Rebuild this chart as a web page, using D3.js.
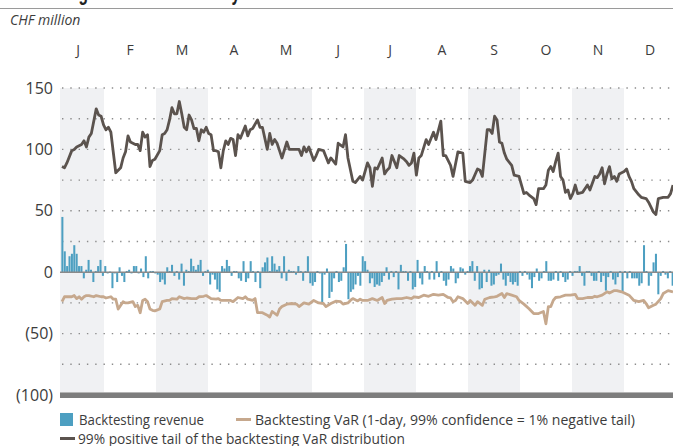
<!DOCTYPE html>
<html>
<head>
<meta charset="utf-8">
<script src="https://cdnjs.cloudflare.com/ajax/libs/d3/7.8.5/d3.min.js"></script>
<style>
  body { margin: 0; background: #fff; overflow: hidden; }
  svg { display: block; }
  svg text { font-family: "Liberation Sans Narrow", "Open Sans", sans-serif; fill: #3c3c3c; }
</style>
</head>
<body>
<div id="chart"></div>
<script>
/*
  Backtesting revenue vs backtesting VaR
*/

var months = ["J", "F", "M", "A", "M", "J", "J", "A", "S", "O", "N", "D"],
    yTicks = [150, 100, 50, 0, -50, -100],
    gridValues = [150, 125, 100, 75, 50, 25, -25, -50, -75];

// daily backtesting revenue, CHF million
var revenue = [
  45, 17, 5, 13, 15, 22, 15, 5, 5, -5, 2, 10, 2, -8, 1, 5, 10, -3, 5, -1,
  0.5, -13, -1, -8, 4, -3, -8, 1, 2, -1, 5, 5, -1, 3, -4, 13, -5, 1, 1, -1,
  -2, -8, -6, -10, 4, 1, 6, -3, 1, -6, 7, -11, 2, 1, 11, 5, 2, 6, 10, -3,
  1, 2, -10,
  -2, -6, -14, -16, 5, 3, 10, 5, -3, 1, 1, -5, -7, 9, -8, -5, 9, 1, -8, 1,
  -13, 4, 8, 12, 1, 13, 7, 2, 5, -5, 13, -7, 2, 1, 1, -2, 5, 1, -7, 1,
  13, -9, -11, -8, 1, -1, -25, -2, 3, -21, -16, -5, 1, -8, -7, 4, 23, -22, -16, -14,
  -10, -3,
  -11, 13, 9, 2, -9, -5, -12, -10, -11, -8, -3, 4, -6, 1, -4, 1, -14, 6, 1, 1,
  -7, 1, -14, -12, 10, -5, -10, 5, 1, -6, 1, -6, 9, -4, 1, -7, -11, -6, 5, 3,
  -9, -5, 4, 3, -2, 1, 5, 9, -7, 5, -14, -13, 2, -8, 2, -11, -10, -3, -2, 7,
  -6, -11, -3, -8, -10,
  -8, -11, 1, -3, 1, -2, -6, -13, -4, 3, -7, -5, 1, 9, -7, -7, -6, 1, -7, 1,
  -4, -8, -6, 1, -3, 1, 1, 5, -3, -11, 1, 1, -3, -7, -7, 1, -8, -3, -15, -4,
  1, -6, -10, -4, 1, -16, 1, -5, 1, -5, -5, -5, -11, -9, 22, 1, -11, -3, 8, 15,
  -18, -3, 1, -2, -5, 1, -11
];

// backtesting VaR (1-day, 99%), [trading day, value]
var backtestingVaR = [
  [0, -24], [1, -20], [2, -20], [4, -20], [5, -19], [6, -21.5], [7, -20], [8, -22], [9, -20], [10, -19],
  [11, -19], [13, -20], [14, -19], [16, -20], [17, -20], [18, -21], [20, -20], [21, -22], [22, -22], [23, -30],
  [25, -24], [26, -25], [27, -25], [29, -24], [30, -28], [31, -27], [32, -33], [33, -23], [34, -22], [35, -24],
  [36, -30], [37, -31], [38, -31.5], [40, -30], [41, -24], [43, -23], [44, -23], [45, -21.5], [47, -22], [48, -20],
  [50, -21.5], [51, -21], [53, -21.5], [55, -21.5], [56, -20], [58, -19.6], [59, -19], [61, -21.5], [63, -22], [64, -21.5],
  [65, -23], [67, -23], [69, -23], [70, -24], [72, -20.6], [74, -21.5], [75, -20], [76, -22], [78, -23], [79, -21.5],
  [80, -33], [82, -33], [84, -35], [85, -36.5], [86, -32], [88, -35], [89, -30], [90, -28], [92, -26], [94, -25.5],
  [96, -26], [97, -28], [99, -25], [101, -26], [103, -23], [105, -25], [107, -25.5], [108, -28], [110, -25.5], [112, -23.6],
  [114, -24], [115, -26], [117, -25], [118, -23], [119, -21.5], [121, -23.4], [122, -22], [123, -23], [125, -23], [127, -21.5],
  [129, -23], [131, -20.6], [132, -25.5], [133, -23], [135, -22], [137, -21.5], [139, -21.5], [141, -20.6], [143, -21.5], [144, -20],
  [146, -20.6], [148, -18.7], [150, -19.6], [152, -18], [154, -18.7], [156, -18], [158, -20.6], [159, -21], [160, -24], [161, -23],
  [162, -20], [164, -21.5], [166, -25.5], [167, -23], [169, -27], [170, -24], [172, -27], [173, -22], [175, -20.6], [177, -20],
  [178, -19.6], [180, -17.4], [181, -20.6], [182, -17.4], [184, -18.7], [186, -20], [187, -23], [189, -26], [191, -29.6], [193, -33.7],
  [195, -33.7], [197, -32], [198, -42], [199, -28], [200, -28], [201, -23], [202, -20.6], [204, -20], [206, -18.7], [208, -18.7],
  [210, -18], [211, -21.5], [213, -21.5], [215, -20.6], [217, -20.6], [218, -19.6], [219, -20], [221, -18.7], [223, -16], [224, -17],
  [226, -15], [227, -15], [229, -16], [232, -18.7], [234, -23], [236, -24], [238, -23], [239, -25.5], [240, -29], [242, -27],
  [243, -26], [245, -21.5], [246, -17.4], [248, -15], [250, -16]
];

// 99% positive tail of the backtesting VaR distribution, [trading day, value]
var positiveTail = [
  [0, 86], [1, 85], [2, 89], [4, 99], [5, 100], [6, 102], [8, 104], [9, 107], [10, 102], [11, 110],
  [12, 113], [14, 133], [15, 128], [16, 127], [17, 120], [18, 116], [19, 118], [20, 114], [22, 81], [24, 85],
  [25, 93], [26, 98], [27, 111], [28, 106], [30, 104], [31, 104], [32, 99], [33, 114], [34, 110], [35, 112],
  [36, 86], [37, 91], [38, 92], [40, 99], [41, 112], [42, 113], [43, 116], [44, 124], [45, 134], [46, 129],
  [47, 129], [48, 139], [49, 129], [50, 118], [51, 116], [52, 128], [53, 124], [54, 117], [55, 117], [56, 107],
  [57, 116], [58, 114], [59, 118], [60, 113], [61, 112], [62, 99], [63, 99], [64, 98], [65, 85], [66, 99],
  [67, 107], [68, 104], [69, 109], [70, 108], [71, 95], [72, 112], [73, 109], [75, 119], [76, 111], [77, 116],
  [78, 117], [80, 124], [81, 118], [82, 118], [84, 100], [85, 113], [86, 104], [87, 108], [88, 105], [89, 99],
  [90, 93], [92, 106], [93, 100], [95, 100], [97, 100], [98, 95], [99, 102], [100, 98], [101, 102], [103, 91],
  [104, 95], [105, 100], [107, 99], [108, 94], [109, 89], [110, 93], [112, 88], [113, 105], [115, 102], [116, 112],
  [117, 93], [119, 74], [120, 73], [122, 78], [123, 75], [125, 89], [126, 85], [127, 70], [128, 85], [129, 84],
  [131, 93], [132, 80], [133, 83], [134, 85], [135, 95], [137, 85], [138, 95], [140, 92], [141, 90], [142, 87],
  [143, 89], [144, 97], [145, 79], [146, 93], [147, 95], [149, 108], [150, 104], [152, 114], [153, 108], [155, 123],
  [156, 95], [157, 95], [159, 87], [160, 78], [162, 98], [164, 97], [165, 74], [167, 73], [168, 75], [170, 84],
  [171, 83], [172, 78], [174, 116], [175, 116], [176, 113], [177, 127], [178, 124], [179, 106], [180, 105], [181, 97],
  [182, 92], [184, 87], [185, 79], [187, 78], [189, 64], [190, 65], [191, 63], [193, 60], [194, 55], [195, 68],
  [197, 68], [198, 71], [199, 83], [200, 86], [201, 82], [202, 90], [203, 97], [204, 78], [205, 75], [206, 65],
  [207, 67], [208, 60], [209, 64], [210, 71], [211, 64], [213, 65], [215, 71], [216, 67], [218, 78], [219, 77],
  [220, 80], [221, 85], [222, 72], [223, 80], [224, 86], [225, 76], [226, 78], [227, 74], [228, 80], [230, 82],
  [231, 84], [232, 78], [233, 74], [234, 68], [236, 63], [237, 61], [239, 60], [240, 57], [241, 53], [242, 49],
  [243, 47], [244, 60], [246, 61], [248, 61], [249, 64], [250, 71]
];

var width = 673, height = 446,
    plotLeft = 60, plotRight = 673,
    colors = {revenue: "#4d9fc1", var: "#c6a88d", tail: "#5b534e", band: "#f0f1f3", grid: "#8c8c8c"};

var svg = d3.select("#chart").append("svg")
    .attr("width", width)
    .attr("height", height);

// scales
var xMonth = d3.scaleBand().domain(d3.range(months.length)).range([52, 676]),
    xDay = d3.scaleLinear().domain([0, 250]).range([62, 673]),
    xBar = d3.scaleBand().domain(d3.range(revenue.length)).range([61, 674]).padding(0.15),
    y = d3.scaleLinear().domain([-100, 150]).range([395, 88]);

// title (cut off at the top of the page, only descenders show) and rule
svg.append("text")
    .attr("x", 0)
    .attr("y", 0)
    .attr("textLength", 292)
    .attr("lengthAdjust", "spacingAndGlyphs")
    .style("font-family", "'Liberation Sans', sans-serif")
    .style("font-weight", "bold")
    .style("font-size", "24px")
    .style("fill", "#222")
    .text("Backtesting revenue and VaR by month");

svg.append("line")
    .attr("x1", 0).attr("x2", width)
    .attr("y1", 8.5).attr("y2", 8.5)
    .style("stroke", "#9a9a9a")
    .style("stroke-width", 1);

svg.append("text")
    .attr("x", 10)
    .attr("y", 25)
    .style("font-style", "italic")
    .style("font-size", "14px")
    .text("CHF million");

// alternate month shading
svg.selectAll(".band")
    .data(d3.range(months.length).filter(function(i) { return i % 2 === 0; }))
  .enter().append("rect")
    .attr("class", "band")
    .attr("x", function(i) { return Math.max(plotLeft, xMonth(i)); })
    .attr("width", function(i) { return xMonth(i) + xMonth.bandwidth() - Math.max(plotLeft, xMonth(i)); })
    .attr("y", y(150))
    .attr("height", y(-100) - y(150))
    .style("fill", colors.band);

// dotted gridlines
svg.selectAll(".grid")
    .data(gridValues)
  .enter().append("line")
    .attr("class", "grid")
    .attr("x1", 62).attr("x2", plotRight)
    .attr("y1", function(d) { return y(d); })
    .attr("y2", function(d) { return y(d); })
    .style("stroke", colors.grid)
    .style("stroke-width", 1.4)
    .style("stroke-dasharray", "1.4,6.9");

// month labels
var monthAxis = svg.append("g")
    .attr("transform", "translate(0,58)")
    .call(d3.axisTop(xMonth).tickSize(0).tickFormat(function(i) { return months[i]; }));
monthAxis.select(".domain").remove();
monthAxis.selectAll("text")
    .attr("dy", 0)
    .style("font-family", null)
    .style("font-size", "14px")
    .style("fill", "#3c3c3c");

// y axis labels
var yAxis = svg.append("g")
    .attr("transform", "translate(55,0)")
    .call(d3.axisLeft(y).tickValues(yTicks).tickSize(0)
      .tickFormat(function(d) { return d < 0 ? "(" + (-d) + ")" : d; }));
yAxis.select(".domain").remove();
yAxis.selectAll("text")
    .attr("x", -2)
    .style("font-family", null)
    .style("font-size", "16px")
    .style("fill", "#3c3c3c");

// revenue bars
svg.selectAll(".bar")
    .data(revenue)
  .enter().append("rect")
    .attr("class", "bar")
    .attr("x", function(d, i) { return xBar(i); })
    .attr("width", xBar.bandwidth())
    .attr("y", function(d) { return y(Math.max(0, d)); })
    .attr("height", function(d) { return Math.abs(y(d) - y(0)); })
    .style("fill", colors.revenue);

// zero line
svg.append("line")
    .attr("x1", plotLeft).attr("x2", plotRight)
    .attr("y1", y(0)).attr("y2", y(0))
    .style("stroke", "#8a8a8a")
    .style("stroke-width", 1.5);

// bottom axis bar
svg.append("rect")
    .attr("x", plotLeft)
    .attr("y", y(-100) - 2)
    .attr("width", plotRight - plotLeft)
    .attr("height", 5)
    .style("fill", "#7d7d7d");
svg.append("line")
    .attr("x1", plotLeft).attr("x2", plotRight)
    .attr("y1", y(-100) - 2.5).attr("y2", y(-100) - 2.5)
    .style("stroke", "#b5b5b5")
    .style("stroke-width", 1);

var line = d3.line()
    .x(function(d) { return xDay(d[0]); })
    .y(function(d) { return y(d[1]); });

svg.append("path")
    .datum(backtestingVaR)
    .attr("d", line)
    .style("fill", "none")
    .style("stroke", colors.var)
    .style("stroke-width", 2.8)
    .style("stroke-linejoin", "round");

svg.append("path")
    .datum(positiveTail)
    .attr("d", line)
    .style("fill", "none")
    .style("stroke", colors.tail)
    .style("stroke-width", 2.8)
    .style("stroke-linejoin", "round");

// legend (condensed to the widths of the original)
var legend = svg.append("g").style("font-size", "15px");

legend.append("rect")
    .attr("x", 60).attr("y", 413)
    .attr("width", 13).attr("height", 13)
    .style("fill", colors.revenue);
legend.append("text")
    .attr("x", 79).attr("y", 425)
    .attr("textLength", 125)
    .attr("lengthAdjust", "spacingAndGlyphs")
    .text("Backtesting revenue");

legend.append("line")
    .attr("x1", 236).attr("x2", 251)
    .attr("y1", 419.5).attr("y2", 419.5)
    .style("stroke", colors.var)
    .style("stroke-width", 3);
legend.append("text")
    .attr("x", 255).attr("y", 425)
    .attr("textLength", 380)
    .attr("lengthAdjust", "spacingAndGlyphs")
    .text("Backtesting VaR (1-day, 99% confidence = 1% negative tail)");

legend.append("line")
    .attr("x1", 60).attr("x2", 75)
    .attr("y1", 438.5).attr("y2", 438.5)
    .style("stroke", colors.tail)
    .style("stroke-width", 3);
legend.append("text")
    .attr("x", 78).attr("y", 444)
    .attr("textLength", 327)
    .attr("lengthAdjust", "spacingAndGlyphs")
    .text("99% positive tail of the backtesting VaR distribution");
</script>
</body>
</html>
